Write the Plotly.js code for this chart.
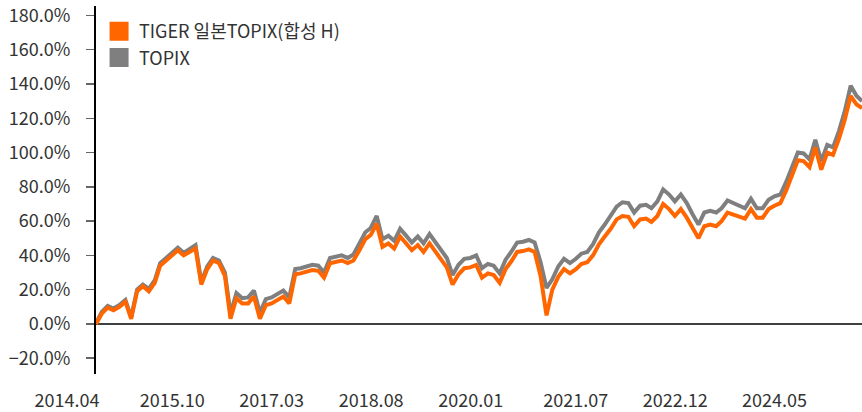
<!DOCTYPE html>
<html>
<head>
<meta charset="utf-8">
<script src="https://cdn.plot.ly/plotly-3.0.1.min.js"></script>
<style>
  html, body { margin: 0; padding: 0; background: #ffffff; }
  #chart { width: 862px; height: 412px; }
</style>
</head>
<body>
<div id="chart"></div>
<script>
// Monthly observation dates
const months = [
  "2014-04","2014-05","2014-06","2014-07","2014-08","2014-09","2014-10","2014-11","2014-12",
  "2015-01","2015-02","2015-03","2015-04","2015-05","2015-06","2015-07","2015-08","2015-09","2015-10","2015-11","2015-12",
  "2016-01","2016-02","2016-03","2016-04","2016-05","2016-06","2016-07","2016-08","2016-09","2016-10","2016-11","2016-12",
  "2017-01","2017-02","2017-03","2017-04","2017-05","2017-06","2017-07","2017-08","2017-09","2017-10","2017-11","2017-12",
  "2018-01","2018-02","2018-03","2018-04","2018-05","2018-06","2018-07","2018-08","2018-09","2018-10","2018-11","2018-12",
  "2019-01","2019-02","2019-03","2019-04","2019-05","2019-06","2019-07","2019-08","2019-09","2019-10","2019-11","2019-12",
  "2020-01","2020-02","2020-03","2020-04","2020-05","2020-06","2020-07","2020-08","2020-09","2020-10","2020-11","2020-12",
  "2021-01","2021-02","2021-03","2021-04","2021-05","2021-06","2021-07","2021-08","2021-09","2021-10","2021-11","2021-12",
  "2022-01","2022-02","2022-03","2022-04","2022-05","2022-06","2022-07","2022-08","2022-09","2022-10","2022-11","2022-12",
  "2023-01","2023-02","2023-03","2023-04","2023-05","2023-06","2023-07","2023-08","2023-09","2023-10","2023-11","2023-12",
  "2024-01","2024-02","2024-03","2024-04","2024-05","2024-06","2024-07","2024-08","2024-09","2024-10","2024-11","2024-12",
  "2025-01","2025-02","2025-03"
];

// TIGER 일본TOPIX(합성 H) cumulative return (%)
const tigerReturn = [
  0, 6, 9.5, 8, 10, 13, 3, 19, 22,
  19, 24, 34, 37, 40, 43, 40, 42, 44, 23, 32, 37,
  35.5, 28, 3, 15, 12, 12, 16, 3, 11, 12, 14, 16,
  12, 29, 29.5, 30.5, 31.5, 31, 27, 35.4, 36.4, 37, 35.5, 37,
  43, 49.5, 52, 58.5, 45, 47, 44, 51, 47, 43, 46, 42,
  47, 42, 38, 33, 23, 29, 32.5, 33, 34.4, 27, 29.5, 28.5,
  24, 32, 36.4, 42, 42.5, 43.5, 42, 28, 5, 20, 27.5, 32,
  29.5, 32, 35, 36, 40, 46.5, 51, 55.5, 61, 63, 62.5, 57,
  61, 61.5, 59.5, 63, 70, 67, 63, 67, 62, 55.7, 50, 57,
  58, 57, 60, 65, 64, 62.5, 61.5, 67, 62, 62, 67, 69,
  70.5, 78, 87, 95.5, 95, 91.5, 103, 90, 100, 98.6, 108, 119,
  133, 128, 126
];

// TOPIX cumulative return (%)
const topixReturn = [
  0.5, 7, 10.5, 9, 11, 14, 4, 20, 23,
  20.5, 25.5, 35.5, 38.5, 41.5, 44.5, 41.5, 43.5, 46, 24.5, 33.5, 38.5,
  37, 30, 6, 18, 15, 15.5, 19.5, 6.5, 14.5, 15.5, 17.5, 19.5,
  15.5, 32, 32.5, 33.5, 34.5, 34, 30, 38.5, 39.5, 40, 38.5, 40.5,
  47, 53.5, 56, 63, 49.5, 51.5, 48.5, 55.5, 51.5, 47.5, 51, 47,
  52.5, 47.5, 43.5, 38.5, 28.5, 34.5, 38, 38.5, 40, 32.5, 35, 34,
  29.5, 37.5, 42, 47.5, 48, 49, 47.5, 36, 21, 26, 33.5, 38,
  35.5, 38, 41, 42, 46.5, 53.5, 58, 63, 68.5, 71, 70.5, 65,
  69, 69.5, 67.5, 71.5, 78.5, 75.5, 71.5, 75.5, 70.5, 64, 58, 65,
  66, 65, 67.5, 72, 70.5, 68.5, 67.5, 73, 67.5, 67.5, 72.5, 74.5,
  75.5, 83, 91.5, 100, 99.5, 96, 107.5, 95, 104.5, 103, 112.5, 124,
  139, 133, 130
];

const seriesNames = ["TIGER 일본TOPIX(합성 H)", "TOPIX"];
const seriesColors = ["#FF6600", "#7F7F7F"];

const tickDates = ["2014-04-01","2015-10-01","2017-03-01","2018-08-01","2020-01-01","2021-07-01","2022-12-01","2024-05-01"];
const tickLabels = ["2014.04","2015.10","2017.03","2018.08","2020.01","2021.07","2022.12","2024.05"];

const FONT = "'Noto Sans CJK KR', 'Noto Sans', sans-serif";

const traces = [
  { x: months, y: topixReturn, type: "scatter", mode: "lines", name: seriesNames[1],
    line: { color: seriesColors[1], width: 4 }, showlegend: false, hoverinfo: "skip" },
  { x: months, y: tigerReturn, type: "scatter", mode: "lines", name: seriesNames[0],
    line: { color: seriesColors[0], width: 4 }, showlegend: false, hoverinfo: "skip" },
  // legend entries (square swatches)
  { x: [null], y: [null], type: "scatter", mode: "markers", name: seriesNames[0],
    marker: { symbol: "square", size: 16, color: seriesColors[0], line: { color: seriesColors[0], width: 3 } } },
  { x: [null], y: [null], type: "scatter", mode: "markers", name: seriesNames[1],
    marker: { symbol: "square", size: 16, color: seriesColors[1], line: { color: seriesColors[1], width: 3 } } }
];

const layout = {
  width: 862, height: 412,
  margin: { l: 96, r: 0, t: 6, b: 38, pad: 0 },
  paper_bgcolor: "#ffffff", plot_bgcolor: "#ffffff",
  font: { family: FONT, size: 18, color: "#333333" },
  showlegend: true,
  legend: {
    x: 0.004, y: 0.981, xanchor: "left", yanchor: "top",
    bgcolor: "rgba(0,0,0,0)", borderwidth: 0,
    font: { family: FONT, size: 18, color: "#333333" },
    itemwidth: 30, traceorder: "normal", tracegroupgap: 0
  },
  xaxis: {
    type: "date",
    range: ["2014-04-01", "2025-03-01"],
    showgrid: false, zeroline: false, showline: false,
    ticks: "", tickmode: "array", tickvals: tickDates, ticktext: tickLabels,
    tickfont: { family: FONT, size: 18, color: "#333333" },
    ticklabelshift: -29, ticklabelstandoff: 14,
    automargin: false, fixedrange: true
  },
  yaxis: {
    range: [-29.2, 185.5],
    tickmode: "linear", tick0: 0, dtick: 20,
    tickformat: ".1f", ticksuffix: "%",
    showgrid: false,
    zeroline: true, zerolinecolor: "#404040", zerolinewidth: 1.3,
    showline: true, linecolor: "#000000", linewidth: 2,
    ticks: "outside", ticklen: 8, tickwidth: 1.5, tickcolor: "#666666",
    tickfont: { family: FONT, size: 18, color: "#333333" },
    ticklabelstandoff: 12,
    automargin: false, fixedrange: true
  }
};

Plotly.newPlot("chart", traces, layout, { displayModeBar: false, staticPlot: true });
</script>
</body>
</html>
